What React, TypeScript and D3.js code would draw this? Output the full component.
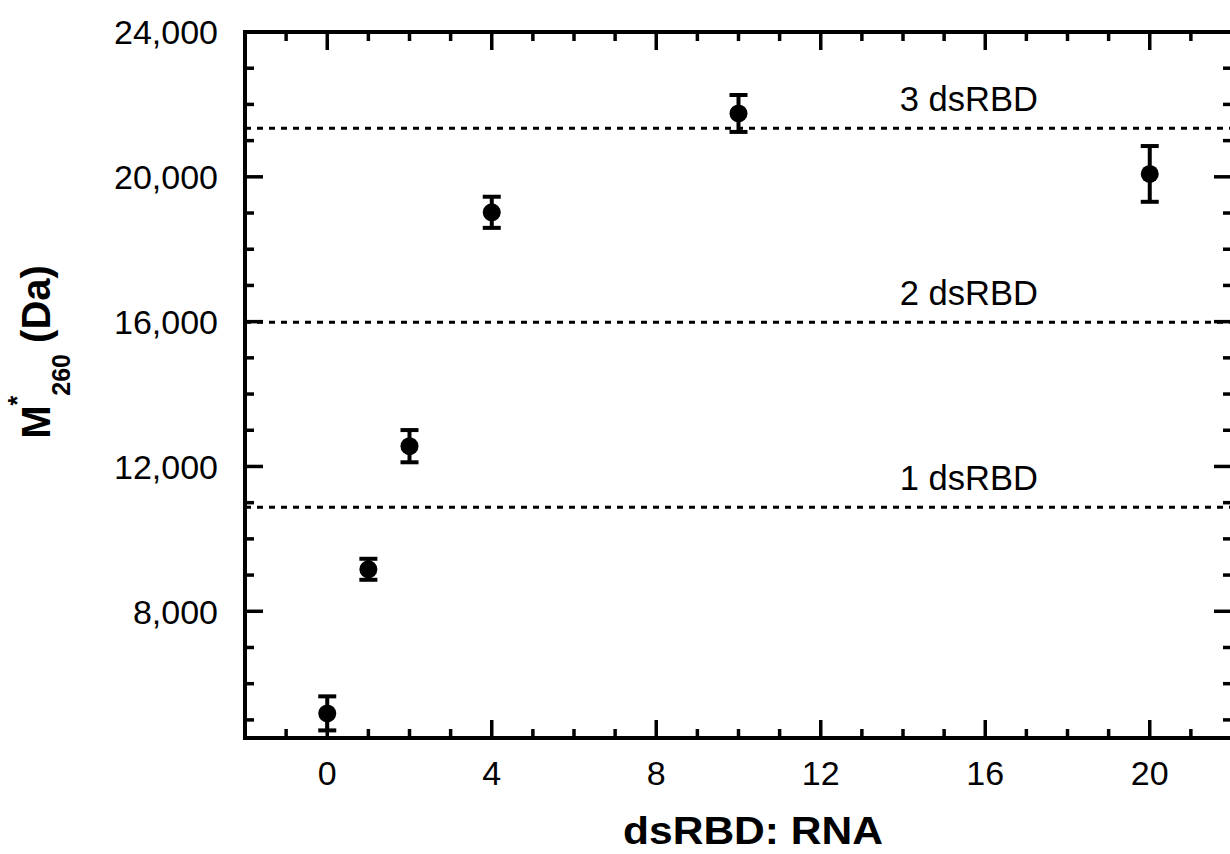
import React from 'react'
import * as d3 from 'd3'

// dsRBD : RNA ratio and measured apparent mass
const ratios = [0, 1, 2, 4, 10, 20]
const masses = [5180, 9160, 12560, 19020, 21750, 20080]
const errors = [470, 290, 445, 430, 510, 770]

// reference masses for 1, 2, 3 bound domains
const refMasses = [10870, 15980, 21340]
const refLabels = ['1 dsRBD', '2 dsRBD', '3 dsRBD']

const xMajor = [0, 4, 8, 12, 16, 20]
const yMajor = [8000, 12000, 16000, 20000, 24000]

const W = 1230
const H = 854
const FONT = '"Liberation Sans", Arial, Helvetica, sans-serif'

export default function App() {
  const x = d3.scaleLinear().domain([-2, 22]).range([245, 1232])
  const y = d3.scaleLinear().domain([4500, 24000]).range([738, 32])

  const xMinor = d3.range(-1, 22, 1).filter(v => !xMajor.includes(v))
  const yMinor = d3.range(5000, 24000, 1000).filter(v => !yMajor.includes(v))
  const fmt = d3.format(',')

  const [x0, x1] = x.range()
  const [y0, y1] = y.range()

  return (
    <svg width={W} height={H} style={{ position: 'absolute', left: 0, top: 0, background: '#fff' }}
      fontFamily={FONT}>
      <rect width={W} height={H} fill="#fff" />

      {/* reference lines */}
      {refMasses.map((m, i) => (
        <g key={'ref' + i}>
          <line x1={x0} x2={x1} y1={y(m)} y2={y(m)} stroke="#000" strokeWidth={3}
            strokeDasharray="6,6" />
          <text x={x(15.6)} y={y(m) - 17} fontSize={34.5} textAnchor="middle">{refLabels[i]}</text>
        </g>
      ))}

      {/* ticks, inward on all four sides */}
      <g stroke="#000" strokeWidth={3.5}>
        {xMajor.map(v => (
          <g key={'xM' + v}>
            <line x1={x(v)} x2={x(v)} y1={y0} y2={y0 - 18} />
            <line x1={x(v)} x2={x(v)} y1={y1} y2={y1 + 18} />
          </g>
        ))}
        {xMinor.map(v => (
          <g key={'xm' + v}>
            <line x1={x(v)} x2={x(v)} y1={y0} y2={y0 - 9} />
            <line x1={x(v)} x2={x(v)} y1={y1} y2={y1 + 9} />
          </g>
        ))}
        {yMajor.map(v => (
          <g key={'yM' + v}>
            <line x1={x0} x2={x0 + 18} y1={y(v)} y2={y(v)} />
            <line x1={x1} x2={x1 - 18} y1={y(v)} y2={y(v)} />
          </g>
        ))}
        {yMinor.map(v => (
          <g key={'ym' + v}>
            <line x1={x0} x2={x0 + 9} y1={y(v)} y2={y(v)} />
            <line x1={x1} x2={x1 - 9} y1={y(v)} y2={y(v)} />
          </g>
        ))}
      </g>

      {/* frame */}
      <rect x={x0} y={y1} width={x1 - x0} height={y0 - y1} fill="none" stroke="#000" strokeWidth={4} />

      {/* tick labels */}
      {xMajor.map(v => (
        <text key={'xl' + v} x={x(v)} y={785} fontSize={34} textAnchor="middle">{v}</text>
      ))}
      {yMajor.map(v => (
        <text key={'yl' + v} x={218} y={y(v)} dy="0.36em" fontSize={34} textAnchor="end">{fmt(v)}</text>
      ))}

      {/* data with error bars */}
      {ratios.map((r, i) => {
        const cx = x(r)
        const top = y(masses[i] + errors[i])
        const bot = y(masses[i] - errors[i])
        return (
          <g key={'pt' + i} stroke="#000" strokeWidth={4}>
            <line x1={cx} x2={cx} y1={top} y2={bot} />
            <line x1={cx - 9} x2={cx + 9} y1={top} y2={top} />
            <line x1={cx - 9} x2={cx + 9} y1={bot} y2={bot} />
            <circle cx={cx} cy={y(masses[i])} r={9} fill="#000" stroke="none" />
          </g>
        )
      })}

      {/* axis titles */}
      <text transform="translate(753,844) scale(1.12,1)" fontSize={38} fontWeight="bold"
        textAnchor="middle">dsRBD: RNA</text>
      <text transform="translate(50,352) rotate(-90)" fontSize={40} fontWeight="bold" textAnchor="middle">
        <tspan>M</tspan>
        <tspan fontSize={25} dy={-24}>*</tspan>
        <tspan fontSize={25} dy={44}>260</tspan>
        <tspan dy={-20}> (Da)</tspan>
      </text>
    </svg>
  )
}
